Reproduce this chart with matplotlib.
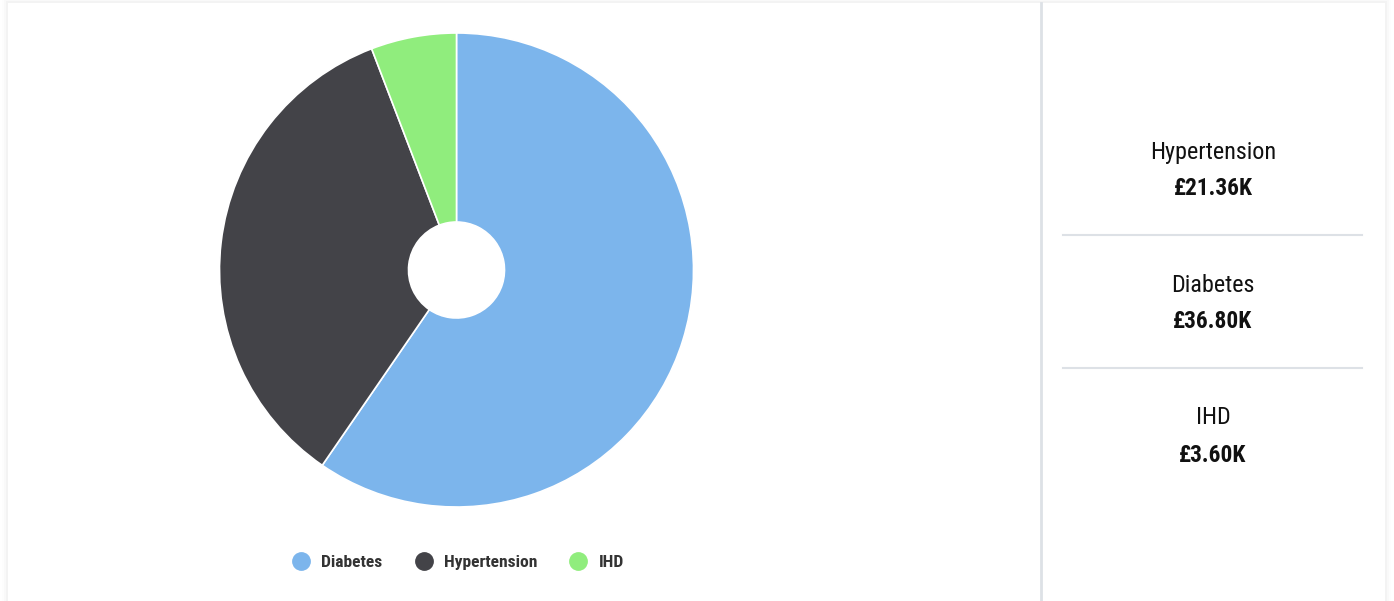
import matplotlib
matplotlib.use("Agg")
import matplotlib.pyplot as plt
from matplotlib.lines import Line2D
from matplotlib.patches import Rectangle

plt.rcParams['font.family'] = ['Roboto Condensed', 'Liberation Sans Narrow', 'Roboto', 'DejaVu Sans']

categories = ["Diabetes", "Hypertension", "IHD"]
values = [36.80, 21.36, 3.60]  # thousands of pounds
colors = ["#7cb5ec", "#434348", "#90ed7d"]
panel_order = ["Hypertension", "Diabetes", "IHD"]

W, H = 1394, 601
fig = plt.figure(figsize=(W / 100, H / 100), dpi=100, facecolor="white")

def fx(x):
    return x / W

def fy(y):
    return 1 - y / H

# card with faint shadow
bg = fig.add_axes([0, 0, 1, 1])
bg.set_xlim(0, W)
bg.set_ylim(H, 0)
bg.axis("off")
for i, a in enumerate([0.008, 0.014, 0.022]):
    d = 6 - 2 * i
    bg.add_patch(Rectangle((8 - d, 3 - d), 1377 + 2 * d, 620, color="black", alpha=a, lw=0))
bg.add_patch(Rectangle((8, 3), 1377, 620, color="white", lw=0))
bg.plot([1041, 1041], [3, H], color="#dde1e6", lw=2)
for y in [235, 368]:
    bg.plot([1063, 1362], [y, y], color="#dde1e6", lw=1.5)

# donut
cx, cy, r = 456.5, 270, 237
ax = fig.add_axes([fx(cx - r), fy(cy + r), 2 * r / W, 2 * r / H])
ax.pie(values, colors=colors, startangle=90, counterclock=False, radius=1,
       wedgeprops=dict(width=1 - 48 / r, edgecolor="white", linewidth=1.2))
ax.set_xlim(-1, 1)
ax.set_ylim(-1, 1)
ax.set_aspect("equal")
ax.axis("off")

# legend
handles = [Line2D([], [], marker="o", linestyle="", markersize=12.5,
                  markerfacecolor=c, markeredgecolor=c) for c in colors]
fig.legend(handles, categories, loc="center", bbox_to_anchor=(fx(458), fy(562)),
           ncol=3, frameon=False, handlelength=1.0, handletextpad=0.65, columnspacing=1.86,
           prop=dict(size=12.6, weight="bold"), labelcolor="#333333")

# right panel
totals = dict(zip(categories, values))
for i, name in enumerate(panel_order):
    y0 = 152 + i * 133
    fig.text(fx(1213), fy(y0), name, ha="center", va="center", fontsize=17.4, color="#111111")
    fig.text(fx(1213), fy(y0 + 37), f"£{totals[name]:.2f}K", ha="center", va="center",
             fontsize=16.8, fontweight="bold", color="#111111")

fig.savefig("out.png", dpi=100, facecolor="white")
